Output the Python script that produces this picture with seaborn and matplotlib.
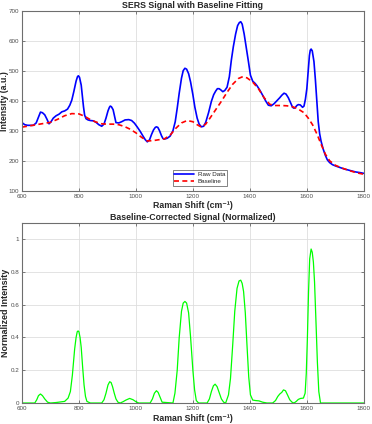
import numpy as np
import pandas as pd
import matplotlib
matplotlib.use("Agg")
import matplotlib.pyplot as plt
import seaborn as sns

# raw SERS spectrum: (Raman shift, intensity)
raw_points = [
    (600, 327), (610, 320), (620, 318), (640, 318), (650, 326), (658, 345), (665, 362),
    (672, 360), (680, 353), (688, 338), (695, 323), (702, 330), (710, 342), (720, 350),
    (730, 355), (740, 363), (750, 366), (760, 372), (768, 385), (775, 402), (782, 430),
    (790, 465), (795, 480), (798, 483), (802, 478), (808, 452), (812, 415), (816, 380),
    (820, 352), (825, 340), (832, 336), (840, 334), (850, 333), (860, 328), (870, 320),
    (880, 315), (888, 322), (895, 342), (902, 366), (907, 378), (910, 382), (914, 380),
    (920, 370), (925, 348), (930, 327), (940, 326), (950, 330), (962, 336), (975, 337),
    (985, 334), (995, 325), (1005, 312), (1015, 298), (1025, 282), (1033, 270), (1040, 263),
    (1048, 270), (1055, 288), (1062, 303), (1068, 311), (1072, 313), (1077, 311), (1083, 300),
    (1090, 283), (1095, 274), (1100, 272), (1110, 275), (1120, 282), (1130, 300), (1138, 330),
    (1145, 375), (1152, 425), (1160, 475), (1166, 500), (1172, 508), (1178, 505), (1185, 490),
    (1192, 462), (1200, 420), (1207, 378), (1215, 342), (1222, 322), (1230, 313), (1238, 315),
    (1245, 328), (1255, 360), (1265, 398), (1273, 420), (1280, 432), (1286, 440), (1292, 440),
    (1298, 436), (1305, 430), (1312, 434), (1320, 445), (1328, 480), (1335, 535), (1342, 580),
    (1350, 622), (1357, 650), (1363, 660), (1368, 663), (1373, 655), (1380, 622), (1387, 580),
    (1395, 530), (1402, 485), (1410, 465), (1418, 458), (1425, 450), (1435, 435), (1445, 418),
    (1455, 400), (1465, 385), (1475, 383), (1485, 390), (1495, 400), (1505, 410), (1512, 418),
    (1520, 425), (1527, 422), (1535, 410), (1542, 395), (1550, 378), (1555, 375), (1560, 378),
    (1565, 384), (1570, 387), (1577, 386), (1585, 378), (1590, 382), (1595, 405), (1600, 440),
    (1605, 500), (1609, 550), (1612, 568), (1615, 572), (1619, 566), (1625, 530), (1630, 470),
    (1635, 400), (1640, 330), (1645, 290), (1650, 265), (1657, 240), (1665, 218), (1672, 203),
    (1680, 194), (1690, 187), (1700, 183), (1715, 178), (1730, 173), (1750, 168), (1770, 163),
    (1790, 160), (1800, 158),
]

# fitted baseline
base_points = [
    (600, 312), (625, 316), (650, 320), (675, 324), (700, 328), (725, 338), (750, 350),
    (775, 357), (800, 356), (820, 348), (840, 337), (860, 329), (880, 323), (900, 322),
    (920, 322), (940, 320), (960, 314), (980, 305), (1000, 293), (1020, 278), (1040, 266),
    (1060, 267), (1080, 270), (1100, 273), (1120, 285), (1140, 308), (1160, 326), (1180, 334),
    (1200, 330), (1215, 320), (1230, 312), (1245, 322), (1260, 342), (1280, 370), (1300, 398),
    (1320, 428), (1340, 455), (1360, 474), (1375, 480), (1390, 476), (1410, 462), (1430, 440),
    (1450, 410), (1470, 388), (1490, 384), (1510, 384), (1530, 383), (1550, 380), (1570, 372),
    (1590, 360), (1605, 342), (1620, 320), (1635, 290), (1650, 255), (1665, 222), (1680, 200),
    (1700, 185), (1720, 177), (1750, 167), (1775, 160), (1800, 155),
]

# baseline-corrected, normalized signal
norm_points = [
    (600, 0), (645, 0), (652, 0.02), (658, 0.045), (665, 0.055), (672, 0.045), (680, 0.025),
    (690, 0.005), (700, 0), (720, 0.003), (750, 0.01), (762, 0.03), (770, 0.07), (777, 0.17),
    (785, 0.33), (790, 0.4), (794, 0.435), (797, 0.44), (800, 0.435), (804, 0.4), (808, 0.34),
    (813, 0.22), (818, 0.11), (823, 0.04), (828, 0.01), (840, 0), (880, 0), (888, 0.02),
    (895, 0.06), (902, 0.11), (908, 0.13), (913, 0.125), (918, 0.1), (924, 0.06), (930, 0.025),
    (937, 0.005), (945, 0), (955, 0.008), (965, 0.018), (978, 0.028), (990, 0.02),
    (1000, 0.008), (1010, 0), (1050, 0), (1058, 0.025), (1065, 0.06), (1072, 0.075),
    (1078, 0.065), (1085, 0.035), (1092, 0.005), (1130, 0), (1137, 0.06), (1145, 0.2),
    (1152, 0.4), (1160, 0.56), (1166, 0.61), (1172, 0.62), (1178, 0.61), (1185, 0.55),
    (1192, 0.4), (1200, 0.2), (1206, 0.08), (1212, 0.015), (1220, 0), (1250, 0),
    (1258, 0.025), (1265, 0.07), (1272, 0.105), (1278, 0.115), (1285, 0.1), (1292, 0.065),
    (1300, 0.025), (1308, 0.005), (1315, 0), (1325, 0.05), (1332, 0.15), (1340, 0.36),
    (1347, 0.56), (1355, 0.7), (1362, 0.745), (1368, 0.75), (1373, 0.73), (1378, 0.68),
    (1384, 0.55), (1390, 0.35), (1396, 0.16), (1402, 0.05), (1410, 0.018), (1420, 0.015),
    (1432, 0.013), (1445, 0.005), (1460, 0), (1480, 0), (1490, 0.015), (1498, 0.04),
    (1505, 0.055), (1512, 0.065), (1518, 0.08), (1525, 0.075), (1532, 0.05), (1540, 0.02),
    (1548, 0.005), (1555, 0), (1563, 0.01), (1570, 0.022), (1578, 0.028), (1588, 0.03),
    (1594, 0.06), (1598, 0.18), (1602, 0.4), (1606, 0.68), (1610, 0.88), (1615, 0.94),
    (1619, 0.92), (1623, 0.86), (1627, 0.74), (1632, 0.5), (1637, 0.25), (1642, 0.07),
    (1648, 0), (1700, 0), (1800, 0),
]

raw = pd.DataFrame(raw_points, columns=["shift", "intensity"])
base = pd.DataFrame(base_points, columns=["shift", "intensity"])
norm = pd.DataFrame(norm_points, columns=["shift", "intensity"])

sns.set_style("ticks")
plt.rcParams["font.family"] = ["Liberation Sans", "DejaVu Sans"]
plt.rcParams["axes.edgecolor"] = "#6e6e6e"
plt.rcParams["axes.linewidth"] = 0.8
plt.rcParams["xtick.color"] = "#4d4d4d"
plt.rcParams["ytick.color"] = "#4d4d4d"

fig = plt.figure(figsize=(3.72, 4.24), dpi=100)
ax1 = fig.add_axes([0.059, 0.550, 0.919, 0.425])
ax2 = fig.add_axes([0.059, 0.0495, 0.919, 0.425])


def matlab_axes(ax):
    ax.grid(True, color="#dedede", linewidth=0.6)
    ax.set_axisbelow(True)
    ax.tick_params(direction="in", length=2.5, width=0.5, labelsize=4.5,
                   top=True, right=True, pad=2)
    ax.set_xlim(600, 1800)
    ax.set_xticks(range(600, 1801, 200))
    ax.set_xlabel("Raman Shift (cm\u207b\u00b9)", fontsize=6.3, fontweight="bold", labelpad=2)
    for s in ax.spines.values():
        s.set_visible(True)


sns.lineplot(data=raw, x="shift", y="intensity", ax=ax1, color="blue", linewidth=1.2,
             label="Raw Data", sort=False)
sns.lineplot(data=base, x="shift", y="intensity", ax=ax1, color="red", linewidth=1.2,
             linestyle=(0, (3, 2)), label="Baseline", sort=False)
matlab_axes(ax1)
ax1.set_ylim(100, 700)
ax1.set_yticks(range(100, 701, 100))
ax1.set_ylabel("Intensity (a.u.)", fontsize=6.3, fontweight="bold", labelpad=0)
ax1.set_title("SERS Signal with Baseline Fitting", fontsize=6.3, fontweight="bold", pad=2)
leg = ax1.legend(loc="lower center", bbox_to_anchor=(0.52, 0.01), fontsize=4.5,
                 frameon=True, fancybox=False, edgecolor="#262626", handlelength=3.2,
                 borderpad=0.3, labelspacing=0.25, handletextpad=0.5)
leg.get_frame().set_linewidth(0.5)

sns.lineplot(data=norm, x="shift", y="intensity", ax=ax2, color="#00ff00", linewidth=0.9,
             sort=False)
matlab_axes(ax2)
ax2.set_ylim(0, 1.1)
ax2.set_yticks([0, 0.2, 0.4, 0.6, 0.8, 1])
ax2.set_yticklabels(["0", "0.2", "0.4", "0.6", "0.8", "1"])
ax2.set_ylabel("Normalized Intensity", fontsize=6.5, fontweight="bold", labelpad=0)
ax2.set_title("Baseline-Corrected Signal (Normalized)", fontsize=6.3, fontweight="bold", pad=2)

fig.savefig("out.png", dpi=100)
